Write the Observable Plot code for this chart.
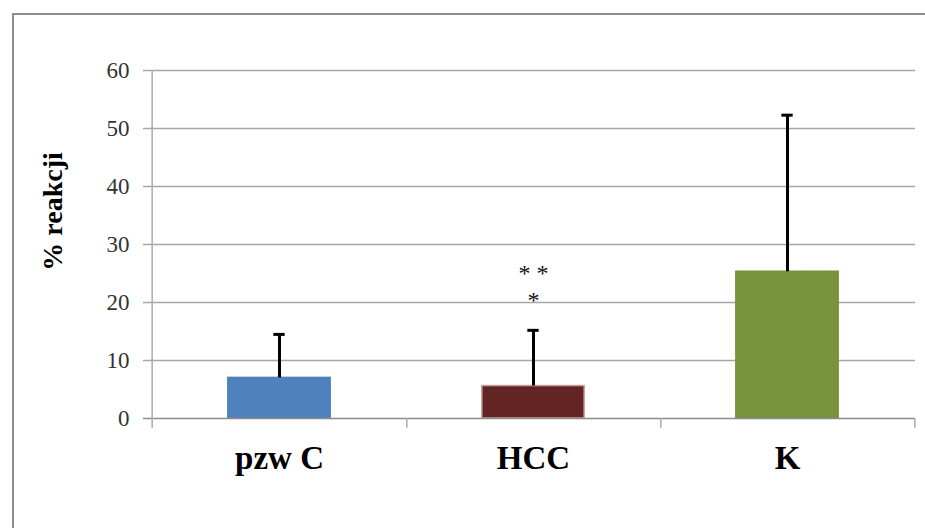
<!DOCTYPE html>
<html>
<head>
<meta charset="utf-8">
<script src="https://cdn.jsdelivr.net/npm/d3@7"></script>
<script src="https://cdn.jsdelivr.net/npm/@observablehq/plot@0.6"></script>
<style>
  html, body { margin: 0; padding: 0; background: #fff; overflow: hidden; }
  #wrap { position: relative; width: 925px; height: 528px; }
  #frame { position: absolute; left: 12px; top: 13px; width: 1200px; height: 1200px; border: 2px solid #8e8e8e; }
  #chart { position: absolute; left: 0; top: 0; }
  #chart svg, #chart text { font-family: "Liberation Serif", "Times New Roman", serif !important; }
</style>
</head>
<body>
<div id="wrap"><div id="frame"></div><div id="chart"></div></div>
<script>
const categories = ["pzw C", "HCC", "K"];
const values = [7.0, 5.6, 25.3];
const errors = [7.5, 9.6, 27.0];
const fills = ["#4F81BD", "#632523", "#77933C"];
const strokes = ["#4F81BD", "#c9a0a0", "#77933C"];
const yTicks = [0, 10, 20, 30, 40, 50, 60];
const gridTicks = [10, 20, 30, 40, 50, 60];
const annotCats = ["HCC", "HCC"];
const annotY = [25.9, 21.2];
const annotText = ["* *", "*"];
const yLabel = "% reakcji";

const data = categories.map((c, i) => ({cat: c, value: values[i], err: errors[i], fill: fills[i], stroke: strokes[i]}));
const annots = annotCats.map((c, i) => ({cat: c, y: annotY[i], text: annotText[i]}));

const W = 925, H = 528, ML = 151, MR = 10, MT = 70, MB = 110;
const step = (W - ML - MR) / categories.length;
const barInset = (step - 103) / 2;
const capInset = (step - 12) / 2;
const font = "Liberation Serif";

const plot = Plot.plot({
  width: W, height: H,
  marginLeft: ML, marginRight: MR, marginTop: MT, marginBottom: MB,
  style: {background: "transparent", fontFamily: font},
  x: {type: "band", domain: categories, padding: 0, label: null},
  y: {domain: [0, 60], label: null},
  color: {type: "identity"},
  marks: [
    Plot.ruleY(gridTicks, {y: d => d, stroke: "#a6a6a6", strokeWidth: 1.6, insetLeft: -8}),
    Plot.barY(data, {x: "cat", y: "value", fill: "fill", stroke: "stroke", strokeWidth: 1.5, insetLeft: barInset, insetRight: barInset}),
    Plot.ruleY([0], {stroke: "#8c8c8c", strokeWidth: 1.6, insetLeft: -8}),
    Plot.ruleX([categories[0]], {x: d => d, y1: -1.7, y2: 60, dx: -step / 2, stroke: "#b0b0b0", strokeWidth: 1.6}),
    Plot.ruleX(categories, {x: d => d, y1: 0, y2: -1.7, dx: step / 2, stroke: "#b0b0b0", strokeWidth: 1.6}),
    Plot.ruleX(data, {x: "cat", y1: "value", y2: d => d.value + d.err, stroke: "#000", strokeWidth: 3}),
    Plot.tickY(data, {x: "cat", y: d => d.value + d.err, stroke: "#000", strokeWidth: 3, insetLeft: capInset, insetRight: capInset}),
    Plot.text(annots, {x: "cat", y: "y", text: "text", fontSize: 24, fontFamily: font, fill: "#111", lineAnchor: "middle", dy: 5}),
    Plot.axisY(yTicks, {tickSize: 0, tickPadding: 22, fontSize: 23, fontFamily: font, fill: "#333", label: null}),
    Plot.axisX({tickSize: 0, tickPadding: 27, fontSize: 33, fontWeight: "bold", fontFamily: font, fill: "#000", label: null}),
    Plot.text([yLabel], {frameAnchor: "left", rotate: -90, dx: -98, dy: -33, textAnchor: "middle", lineAnchor: "middle", fontSize: 28, fontWeight: "bold", fontFamily: font, fill: "#000", style: {letterSpacing: "1px"}})
  ]
});
document.getElementById("chart").appendChild(plot);
</script>
</body>
</html>
